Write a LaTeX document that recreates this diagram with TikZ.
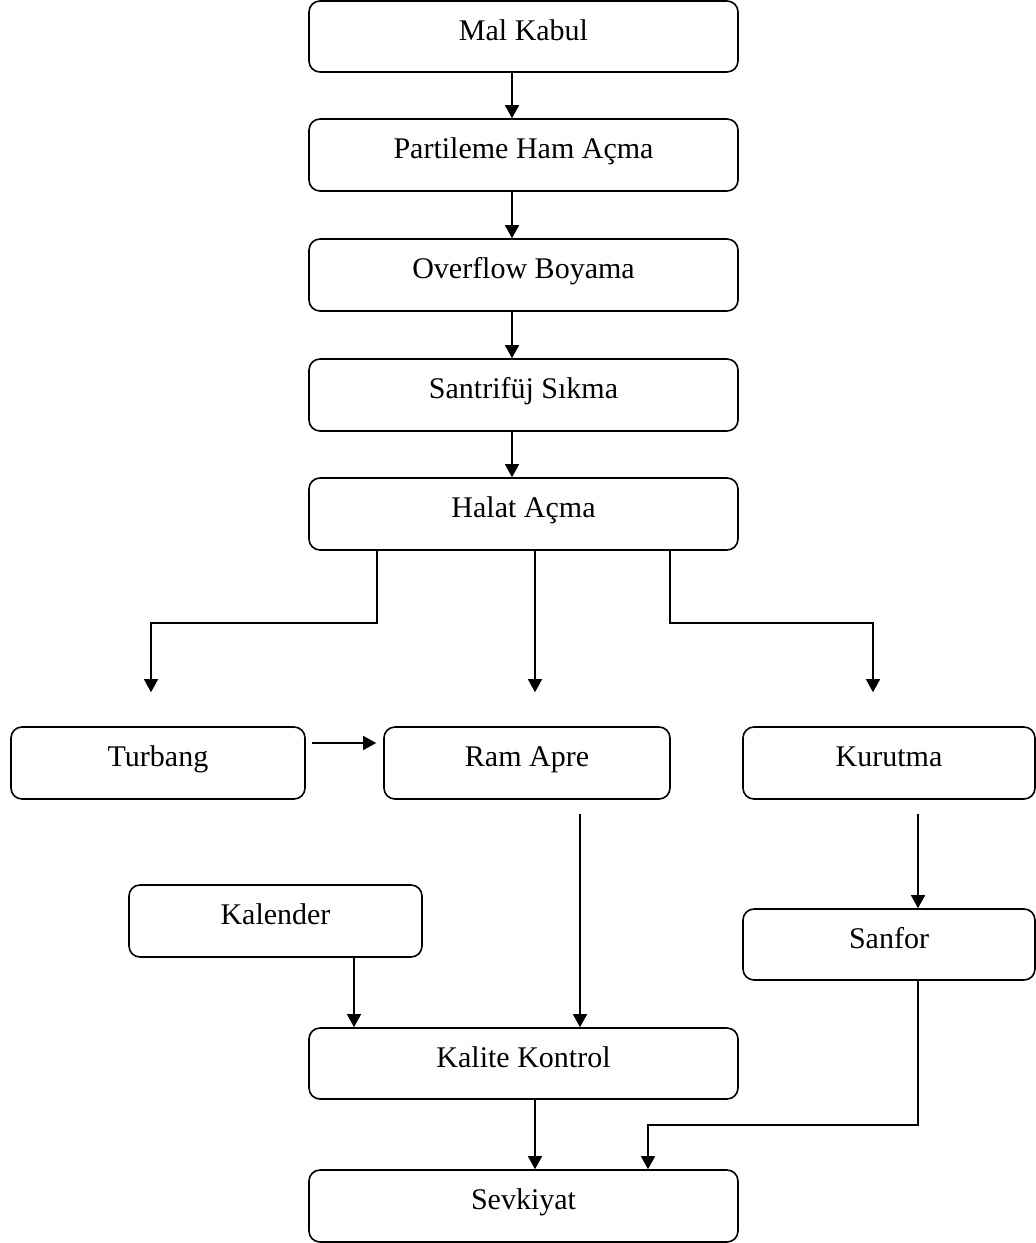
\documentclass[tikz,border=0pt]{standalone}
\usepackage{fontspec}
\setmainfont{Liberation Serif}
\usetikzlibrary{arrows.meta,calc}
\begin{document}
\begin{tikzpicture}[x=1pt,y=1pt,
  stage/.style={draw, line width=1.6pt, rounded corners=11pt, inner sep=0pt,
    text height=14pt, text depth=7pt, font=\fontsize{30}{36}\selectfont},
  flow/.style={line width=1.4pt, -{Triangle[length=13pt,width=14pt]}}]
\useasboundingbox (0,0) rectangle (1036,-1243);
\fill[white] (0,0) rectangle (1036,-1243);

% main column
\node[stage, minimum width=429pt, minimum height=71pt] (mal)   at (523.5,-36.5) {Mal Kabul};
\node[stage, minimum width=429pt, minimum height=72pt] (part)  at (523.5,-155)  {Partileme Ham Açma};
\node[stage, minimum width=429pt, minimum height=72pt] (over)  at (523.5,-275)  {Overflow Boyama};
\node[stage, minimum width=429pt, minimum height=72pt] (sant)  at (523.5,-395)  {Santrifüj Sıkma};
\node[stage, minimum width=429pt, minimum height=72pt] (halat) at (523.5,-514)  {Halat Açma};

% branches
\node[stage, minimum width=294pt, minimum height=72pt] (turb) at (158,-763)  {Turbang};
\node[stage, minimum width=286pt, minimum height=72pt] (ram)  at (527,-763)  {Ram Apre};
\node[stage, minimum width=292pt, minimum height=72pt] (kuru) at (889,-763)  {Kurutma};
\node[stage, minimum width=293pt, minimum height=72pt] (kal)  at (275.5,-921) {Kalender};
\node[stage, minimum width=292pt, minimum height=71pt] (sanf) at (889,-944.5) {Sanfor};

% end of line
\node[stage, minimum width=429pt, minimum height=71pt] (kk)   at (523.5,-1063.5) {Kalite Kontrol};
\node[stage, minimum width=429pt, minimum height=72pt] (sevk) at (523.5,-1206)   {Sevkiyat};

% free arrow ends above the branch boxes
\coordinate (tl) at ([xshift=-7pt,yshift=34pt]turb.north);
\coordinate (tm) at ([xshift=8pt,yshift=34pt]ram.north);
\coordinate (tr) at ([xshift=-16pt,yshift=34pt]kuru.north);

% main column arrows
\draw[flow] ([xshift=-11.5pt]mal.south)  -- ([xshift=-11.5pt]part.north);
\draw[flow] ([xshift=-11.5pt]part.south) -- ([xshift=-11.5pt]over.north);
\draw[flow] ([xshift=-11.5pt]over.south) -- ([xshift=-11.5pt]sant.north);
\draw[flow] ([xshift=-11.5pt]sant.south) -- ([xshift=-11.5pt]halat.north);

% split after Halat Açma
\draw[flow] ([xshift=-146.5pt]halat.south) -- ++(0,-72) -| (tl);
\draw[flow] ([xshift=11.5pt]halat.south) -- (tm);
\draw[flow] ([xshift=146.5pt]halat.south) -- ++(0,-72) -| (tr);

% Turbang to Ram Apre
\draw[flow] ([xshift=6pt,yshift=20pt]turb.east) -- ([xshift=-7pt,yshift=20pt]ram.west);

% lower connections
\draw[flow] ([xshift=53pt,yshift=-14pt]ram.south) -- ([xshift=56.5pt]kk.north);
\draw[flow] ([xshift=29pt,yshift=-14pt]kuru.south) -- ([xshift=29pt]sanf.north);
\draw[flow] ([xshift=78.5pt]kal.south) -- ([xshift=-169.5pt]kk.north);
\draw[flow] ([xshift=11.5pt]kk.south) -- ([xshift=11.5pt]sevk.north);
\draw[flow] ([xshift=29pt]sanf.south) -- ++(0,-144) -| ([xshift=124.5pt]sevk.north);
\end{tikzpicture}
\end{document}
